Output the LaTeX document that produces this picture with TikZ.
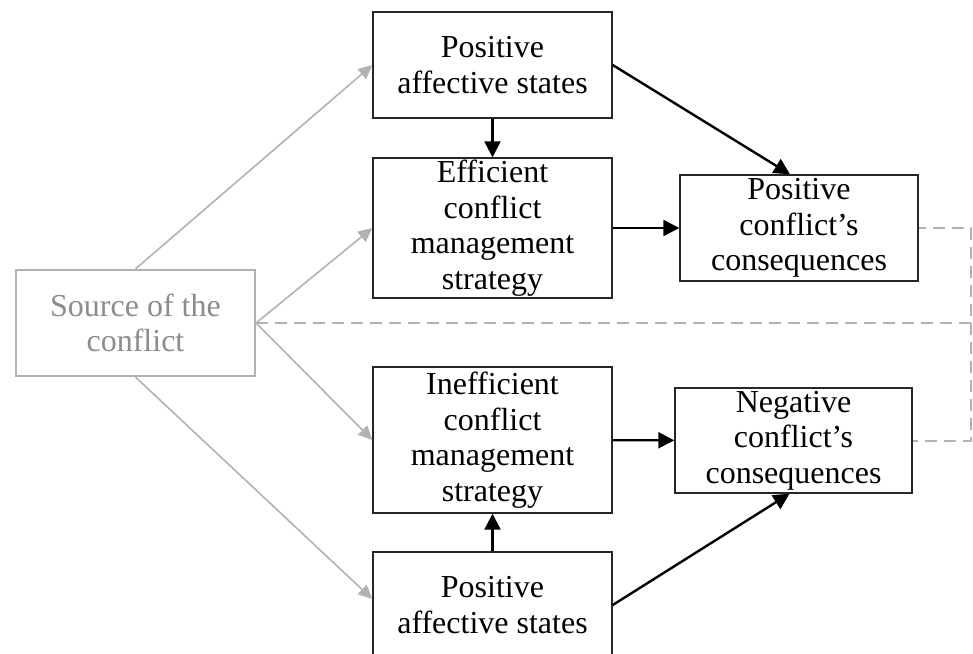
\documentclass[tikz,border=0pt]{standalone}
\usepackage{fontspec}
\setmainfont{Liberation Serif}
\usetikzlibrary{arrows.meta}
\definecolor{linegray}{RGB}{178,178,178}
\definecolor{textgray}{RGB}{140,140,140}
\tikzset{box/.style={draw=black!85,line width=0.7pt,minimum width=119.5pt,minimum height=53pt,
                     align=center,inner sep=0pt,font=\fontsize{16}{17.75}\selectfont},
         srcbox/.style={box,draw=linegray,text=textgray,line width=1.1pt},
         link/.style={-{Triangle[length=8pt,width=8pt]},line width=1.2pt},
         feed/.style={-{Triangle[length=7pt,width=6.5pt]},linegray,line width=0.8pt},
         split/.style={dash pattern=on 6pt off 3.5pt,linegray,line width=1pt}}

\begin{document}
\begin{tikzpicture}[x=0.5pt,y=-0.5pt]
                  \useasboundingbox (0,0) rectangle (973,653);
                  \node[srcbox] (source) at (135.5,323) {Source of the\\conflict};
                  \node[box] (posup) at (492.5,65) {Positive\\affective states};
                  \node[box,minimum height=70pt] (eff) at (492.5,228) {Efficient\\conflict\\management\\strategy};
                  \node[box,minimum width=119pt] (poscon) at (799,228) {Positive\\conflict's\\consequences};
                  \node[box,minimum height=73pt] (ineff) at (492.5,440) {Inefficient\\conflict\\management\\strategy};
                  \node[box,minimum width=118.5pt,minimum height=52.5pt] (negcon) at (793.5,440.5) {Negative\\conflict's\\consequences};
                  \node[box] (posdown) at (492.5,605) {Positive\\affective states};
                  \coordinate (rail) at (971,323);
                  \draw[link] (posup) -- (eff);
                  \draw[link] (posup.east) -- ([xshift=-4.5pt]poscon.north);
                  \draw[link] (eff) -- (poscon);
                  \draw[link] (ineff) -- (negcon);
                  \draw[link] (posdown) -- (ineff);
                  \draw[link] (posdown.east) -- ([xshift=-2pt]negcon.south);
                  \draw[feed] (source.north) -- (posup.west);
                  \draw[feed] (source.east) -- (eff.west);
                  \draw[feed] (source.east) -- (ineff.west);
                  \draw[feed] (source.south) -- ([yshift=3pt]posdown.west);
                  \draw[split] (source.east) -- (rail) |- (poscon.east);
                  \draw[split] (rail) |- (negcon.east);
              \end{tikzpicture}
\end{document}
